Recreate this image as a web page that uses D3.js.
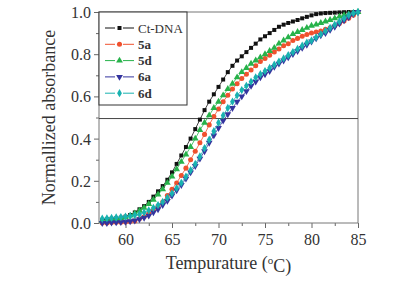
<!DOCTYPE html>
<html>
<head>
<meta charset="utf-8">
<script src="https://cdn.jsdelivr.net/npm/d3@7"></script>
<style>
  body { margin: 0; background: #fff; }
  text { font-family: "Liberation Serif", "Times New Roman", serif; fill: #333; }
</style>
</head>
<body>
<div id="chart"></div>
<script>
// temperatures (degC), one reading every 0.5 degree
var temps = [57.5, 58, 58.5, 59, 59.5, 60, 60.5, 61, 61.5, 62, 62.5, 63, 63.5, 64, 64.5,
  65, 65.5, 66, 66.5, 67, 67.5, 68, 68.5, 69, 69.5, 70, 70.5, 71, 71.5, 72, 72.5,
  73, 73.5, 74, 74.5, 75, 75.5, 76, 76.5, 77, 77.5, 78, 78.5, 79, 79.5, 80, 80.5,
  81, 81.5, 82, 82.5, 83, 83.5, 84, 84.5, 85];

var ctDNA = [0.015, 0.018, 0.02, 0.022, 0.025, 0.03, 0.038, 0.05, 0.065, 0.08, 0.10, 0.125, 0.15, 0.175, 0.205,
  0.24, 0.28, 0.32, 0.36, 0.40, 0.445, 0.49, 0.535, 0.575, 0.61, 0.645, 0.68, 0.715, 0.745, 0.77, 0.79,
  0.81, 0.83, 0.85, 0.87, 0.885, 0.90, 0.915, 0.93, 0.94, 0.948, 0.955, 0.962, 0.97, 0.977, 0.984, 0.99,
  0.993, 0.995, 0.996, 0.997, 0.998, 0.999, 1.0, 1.0, 1.0];

var s5a = [0.0, 0.0, 0.002, 0.003, 0.004, 0.005, 0.007, 0.01, 0.02, 0.03, 0.045, 0.06, 0.08, 0.10, 0.13,
  0.16, 0.19, 0.225, 0.26, 0.30, 0.34, 0.38, 0.42, 0.465, 0.505, 0.54, 0.575, 0.605, 0.635, 0.66, 0.685,
  0.705, 0.725, 0.745, 0.765, 0.78, 0.795, 0.81, 0.825, 0.84, 0.85, 0.865, 0.875, 0.885, 0.893, 0.90, 0.905,
  0.91, 0.918, 0.925, 0.935, 0.945, 0.957, 0.97, 0.985, 1.0];

var s5d = [0.01, 0.012, 0.015, 0.018, 0.022, 0.027, 0.035, 0.045, 0.058, 0.072, 0.09, 0.11, 0.135, 0.16, 0.19,
  0.22, 0.255, 0.29, 0.325, 0.36, 0.40, 0.44, 0.475, 0.51, 0.545, 0.575, 0.605, 0.635, 0.66, 0.69, 0.715,
  0.735, 0.755, 0.77, 0.785, 0.80, 0.815, 0.83, 0.85, 0.865, 0.88, 0.895, 0.905, 0.915, 0.925, 0.935, 0.94,
  0.948, 0.955, 0.962, 0.97, 0.978, 0.985, 0.99, 0.995, 1.0];

var s6a = [0.0, 0.0, 0.002, 0.003, 0.004, 0.006, 0.008, 0.012, 0.018, 0.025, 0.035, 0.05, 0.065, 0.085, 0.105,
  0.13, 0.155, 0.18, 0.21, 0.24, 0.27, 0.305, 0.34, 0.38, 0.415, 0.45, 0.485, 0.515, 0.545, 0.575, 0.60,
  0.625, 0.65, 0.67, 0.69, 0.705, 0.72, 0.74, 0.755, 0.77, 0.785, 0.80, 0.815, 0.83, 0.845, 0.86, 0.875,
  0.89, 0.90, 0.915, 0.93, 0.945, 0.96, 0.975, 0.99, 1.0];

var s6d = [0.02, 0.022, 0.024, 0.026, 0.028, 0.03, 0.033, 0.037, 0.042, 0.05, 0.06, 0.072, 0.085, 0.10, 0.12,
  0.14, 0.165, 0.19, 0.22, 0.25, 0.28, 0.315, 0.355, 0.395, 0.435, 0.475, 0.51, 0.545, 0.575, 0.605, 0.63,
  0.65, 0.67, 0.69, 0.705, 0.72, 0.735, 0.75, 0.765, 0.78, 0.795, 0.81, 0.825, 0.84, 0.855, 0.865, 0.88,
  0.895, 0.91, 0.925, 0.94, 0.955, 0.97, 0.985, 0.995, 1.0];

var names = ["Ct-DNA", "5a", "5d", "6a", "6d"];
var values = [ctDNA, s5a, s5d, s6a, s6d];
var colors = ["#111111", "#f0512e", "#27b24a", "#34349e", "#19b2b0"];
var shapes = [d3.symbolSquare, d3.symbolCircle, d3.symbolTriangle, d3.symbolTriangle, d3.symbolDiamond];
var xTicks = [60, 65, 70, 75, 80, 85];
var yTicks = [0.0, 0.2, 0.4, 0.6, 0.8, 1.0];
var halfLine = 0.495;

var width = 416, height = 285;
var margin = { top: 12, right: 58, bottom: 62, left: 99 };
var w = width - margin.left - margin.right,
  h = height - margin.top - margin.bottom;

var x = d3.scaleLinear().domain([57.15, 85]).range([0, w]);
var y = d3.scaleLinear().domain([0, 1]).range([h, 0]);

var svg = d3.select("#chart").append("svg")
  .attr("width", width)
  .attr("height", height)
  .append("g")
  .attr("transform", "translate(" + margin.left + "," + margin.top + ")");

// minor ticks first, then majors with labels
svg.append("g")
  .attr("transform", "translate(0," + h + ")")
  .call(d3.axisBottom(x).tickValues([62.5, 67.5, 72.5, 77.5, 82.5]).tickSize(3).tickFormat(""))
  .call(function (g) { g.select(".domain").remove(); });
svg.append("g")
  .call(d3.axisLeft(y).tickValues([0.1, 0.3, 0.5, 0.7, 0.9]).tickSize(3).tickFormat(""))
  .call(function (g) { g.select(".domain").remove(); });

var xAxis = svg.append("g")
  .attr("transform", "translate(0," + h + ")")
  .call(d3.axisBottom(x).tickValues(xTicks).tickSize(5).tickPadding(6).tickFormat(d3.format("d")));
var yAxis = svg.append("g")
  .call(d3.axisLeft(y).tickValues(yTicks).tickSize(5).tickPadding(3).tickFormat(d3.format(".1f")));

[xAxis, yAxis].forEach(function (a) {
  a.select(".domain").remove();
  a.selectAll("text").style("font-size", "16px").style("fill", "#333")
    .style("font-family", "Liberation Serif, serif");
});
yAxis.selectAll("text").attr("dy", "0.34em");
svg.selectAll(".tick line").attr("stroke", "#666");

// frame
svg.append("rect")
  .attr("width", w).attr("height", h)
  .attr("fill", "none").attr("stroke", "#777").attr("stroke-width", 1);

// 0.5 reference line
svg.append("line")
  .attr("x1", 0).attr("x2", w)
  .attr("y1", y(halfLine)).attr("y2", y(halfLine))
  .attr("stroke", "#444").attr("stroke-width", 1);

var line = d3.line()
  .x(function (d) { return x(d[0]); })
  .y(function (d) { return y(d[1]); });

values.forEach(function (vals, k) {
  var pts = temps.map(function (t, i) { return [t, vals[i]]; });
  var g = svg.append("g");
  g.append("path")
    .datum(pts)
    .attr("d", line)
    .attr("fill", "none")
    .attr("stroke", colors[k])
    .attr("stroke-width", 0.8);
  g.selectAll("path.pt")
    .data(pts)
    .enter()
    .append("path")
    .attr("class", "pt")
    .attr("d", d3.symbol().type(shapes[k]).size(k == 0 ? 16 : 20))
    .attr("fill", colors[k])
    .attr("transform", function (d) {
      return "translate(" + x(d[0]) + "," + y(d[1]) + ")" + (k == 3 ? "rotate(180)" : "");
    });
});

// legend
var lg = svg.append("g");
lg.append("rect")
  .attr("x", 0).attr("y", 0).attr("width", 88).attr("height", 93)
  .attr("fill", "#fff").attr("stroke", "#333").attr("stroke-width", 1);
names.forEach(function (n, k) {
  var ly = 16 + k * 16.3;
  var row = lg.append("g").attr("transform", "translate(0," + ly + ")");
  row.append("line").attr("x1", 6).attr("x2", 16).attr("y1", 0).attr("y2", 0)
    .attr("stroke", colors[k]).attr("stroke-width", 1);
  row.append("line").attr("x1", 24).attr("x2", 35).attr("y1", 0).attr("y2", 0)
    .attr("stroke", colors[k]).attr("stroke-width", 1);
  row.append("path")
    .attr("d", d3.symbol().type(shapes[k]).size(k == 0 ? 16 : 20))
    .attr("fill", colors[k])
    .attr("transform", "translate(20.5,0)" + (k == 3 ? "rotate(180)" : ""));
  row.append("text")
    .attr("x", 39).attr("y", 0).attr("dy", "0.35em")
    .style("font-size", "13px")
    .style("font-weight", k == 0 ? "normal" : "bold")
    .text(n);
});

// axis titles
var xt = d3.select("svg").append("text")
  .attr("x", margin.left + w / 2)
  .attr("y", 269)
  .attr("text-anchor", "middle")
  .style("font-size", "18px");
xt.append("tspan").text("Tempurature (");
xt.append("tspan").attr("dy", "-0.45em").style("font-size", "11px").text("o");
xt.append("tspan").attr("dy", "0.45em").text("C)");

d3.select("svg").append("text")
  .attr("transform", "translate(55," + (margin.top + h / 2) + ")rotate(-90)")
  .attr("text-anchor", "middle")
  .style("font-size", "18px")
  .text("Normallized absorbance");
</script>
</body>
</html>
